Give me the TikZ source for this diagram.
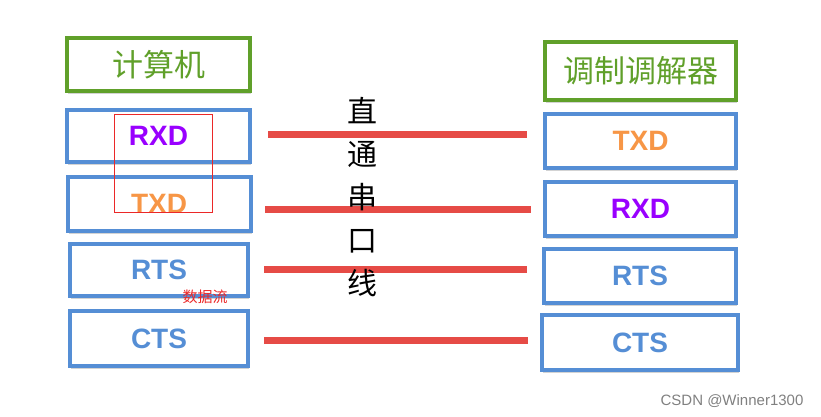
\documentclass[tikz,border=0pt]{standalone}
\usepackage{fontspec}
\setmainfont{Liberation Sans}
\newfontfamily\cjk{Noto Sans CJK SC}
\usetikzlibrary{shadows}

\definecolor{boxblue}{RGB}{85,142,213}
\definecolor{headgreen}{RGB}{96,160,42}
\definecolor{rxdpurple}{RGB}{153,0,255}
\definecolor{txdorange}{RGB}{247,150,70}
\definecolor{wirered}{RGB}{230,75,70}
\definecolor{markred}{RGB}{235,40,40}

\tikzset{
  sigbox/.style={draw=boxblue, line width=4pt, fill=white, text=boxblue,
    inner sep=0pt, font=\bfseries\fontsize{28}{28}\selectfont,
    drop shadow={opacity=0.35, shadow xshift=1pt, shadow yshift=-3pt}},
  headbox/.style={sigbox, draw=headgreen, text=headgreen,
    font=\cjk\fontsize{31}{31}\selectfont},
  wire/.style={draw=wirered, line width=7pt},
}

\begin{document}
\begin{tikzpicture}[x=1pt,y=-1pt]
\useasboundingbox (0,0) rectangle (821,417);

% computer side
\node (lhead) [headbox, minimum width=183pt, minimum height=53pt] at (158.5,64.5) {计算机};
\node (lrxd) [sigbox, text=rxdpurple, minimum width=183pt, minimum height=52pt] at (158.5,136) {RXD};
\node (ltxd) [sigbox, text=txdorange, minimum width=183pt, minimum height=54pt] at (159,204) {TXD};
\node (lrts) [sigbox, minimum width=178pt, minimum height=52pt] at (159,270) {RTS};
\node (lcts) [sigbox, minimum width=178pt, minimum height=55pt] at (159,338.5) {CTS};

% modem side
\node (rhead) [headbox, minimum width=191pt, minimum height=58pt] at (640.5,71) {调制调解器};
\node (rtxd) [sigbox, text=txdorange, minimum width=191pt, minimum height=54pt] at (640.5,141) {TXD};
\node (rrxd) [sigbox, text=rxdpurple, minimum width=191pt, minimum height=54pt] at (640.5,209) {RXD};
\node (rrts) [sigbox, minimum width=192pt, minimum height=54pt] at (640,276) {RTS};
\node (rcts) [sigbox, minimum width=196pt, minimum height=55pt] at (640,342.5) {CTS};

% wires
\coordinate (a1) at (268,134);
\coordinate (b1) at (527,134);
\coordinate (a2) at (265,209);
\coordinate (b2) at (531,209);
\coordinate (a3) at (264,269);
\coordinate (b3) at (527,269);
\coordinate (a4) at (264,340);
\coordinate (b4) at (528,340);
\draw [wire] (a1) -- (b1);
\draw [wire] (a2) -- (b2);
\draw [wire] (a3) -- (b3);
\draw [wire] (a4) -- (b4);

\node (cable) [align=center, font=\cjk\fontsize{30}{43}\selectfont] at (362,197) {直\\通\\串\\口\\线};

% annotation
\draw [markred, line width=0.8pt] (114,114) rectangle (212,212);
\node (flow) [text=markred, font=\cjk\fontsize{15}{15}\selectfont] at (205,297) {数据流};

\node (mark) [text=black!50, font=\fontsize{15}{15}\selectfont] at (732,401) {CSDN @Winner1300};
\end{tikzpicture}
\end{document}
